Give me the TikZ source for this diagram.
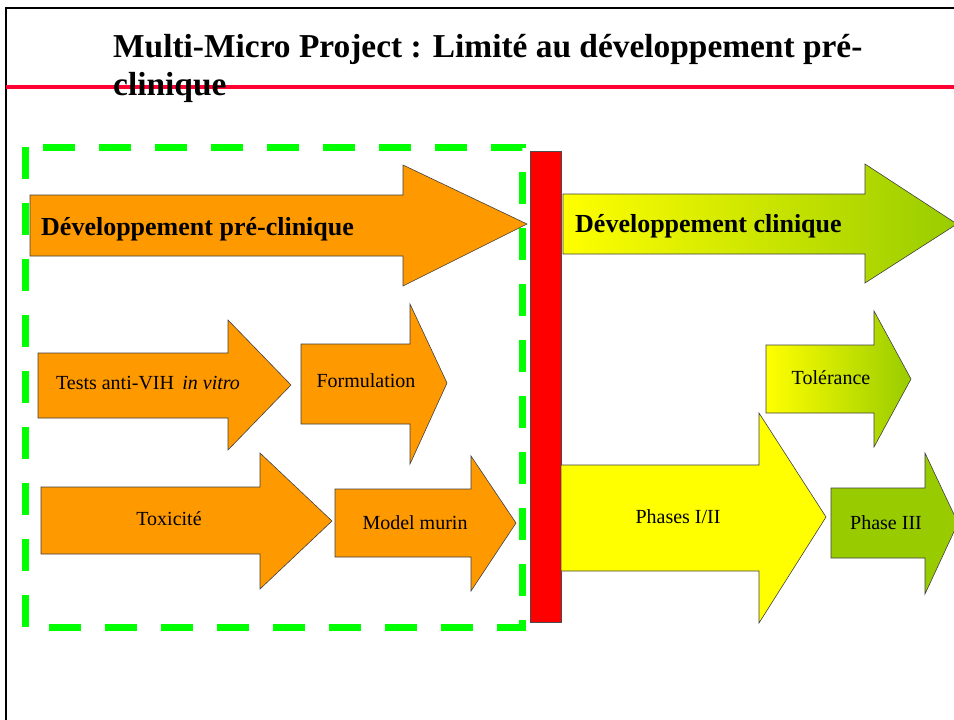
\documentclass[tikz,border=0pt]{standalone}
\usepackage{fontspec}
\setmainfont{Liberation Serif}
\usetikzlibrary{positioning}
\definecolor{preorange}{HTML}{FF9900}
\definecolor{clinyellow}{HTML}{FFFF00}
\definecolor{clingreen}{HTML}{99CC00}
\definecolor{framegreen}{HTML}{00FF00}
\definecolor{rulered}{HTML}{FF0033}
% arrow outline: shaft left, shaft top, shaft bottom, head x, head top, head bottom, tip x, tip y
\newcommand{\flowarrow}[9][]{%
  \path[#1] (#2,#3) -- (#5,#3) -- (#5,#6) -- (#8,#9) -- (#5,#7) -- (#5,#4) -- (#2,#4) -- cycle;}

\begin{document}
\begin{tikzpicture}[x=1pt, y=-1pt,
  pre/.style={draw=black!75, line width=0.6pt, fill=preorange},
  clin/.style={draw=black!75, line width=0.6pt, left color=clinyellow, right color=clingreen},
  phase/.style={draw=black!75, line width=0.6pt, fill=#1},
  titletext/.style={font=\fontsize{33.4}{36}\selectfont\bfseries, anchor=base west, inner sep=0pt},
  biglabel/.style={font=\fontsize{26}{30}\selectfont\bfseries, anchor=base west, inner sep=0pt},
  label/.style={font=\fontsize{20}{24}\selectfont, inner sep=0pt}]
 \useasboundingbox (0,0) rectangle (954,720);
 % slide frame and title
 \draw[line width=2pt] (6,722) -- (6,8) -- (956,8);
 \draw[rulered, line width=4pt] (6,87) -- (954,87);
 \node[titletext] (title) at (113,57) {Multi-Micro Project : Limité au développement pré-};
 \node[titletext] (title2) at (113,95) {clinique};
 % preclinical zone
 \draw[framegreen, line width=7pt, dash pattern=on 32pt off 24pt] (25,147) rectangle (522,627);
 \flowarrow[pre]{30}{195}{256}{403}{165}{286}{527}{224}
 \node[biglabel] (preclin) at (41,235) {Développement pré-clinique};
 \flowarrow[pre]{38}{353}{418}{228}{320}{450}{291}{385}
 \node[label] (vih) at (148,383) {Tests anti-VIH \,\textit{in vitro}};
 \flowarrow[pre]{301}{344}{424}{410}{304}{464}{447}{383}
 \node[label] (form) at (366,381) {Formulation};
 \flowarrow[pre]{41}{487}{554}{260}{453}{589}{332}{521}
 \node[label] (tox) at (169,519) {Toxicité};
 \flowarrow[pre]{335}{489}{557}{471}{456}{591}{516}{523}
 \node[label] (murin) at (415,523) {Model murin};
 % barrier
 \draw[fill=red, draw=black!70, line width=0.6pt] (530,151) rectangle (561,622);
 % clinical zone
 \flowarrow[clin]{563}{194}{254}{865}{164}{283}{957}{224}
 \node[biglabel] (clin) at (575,232) {Développement clinique};
 \flowarrow[clin]{766}{345}{413}{874}{311}{447}{911}{379}
 \node[label] (tol) at (831,378) {Tolérance};
 \flowarrow[phase=clinyellow]{561}{465}{571}{759}{413}{623}{826}{517}
 \node[label] (ph12) at (678,517) {Phases I/II};
 \flowarrow[phase=clingreen]{831}{488}{558}{925}{453}{594}{958}{523}
 \node[label] (ph3) at (886,523) {Phase III};
\end{tikzpicture}
\end{document}
